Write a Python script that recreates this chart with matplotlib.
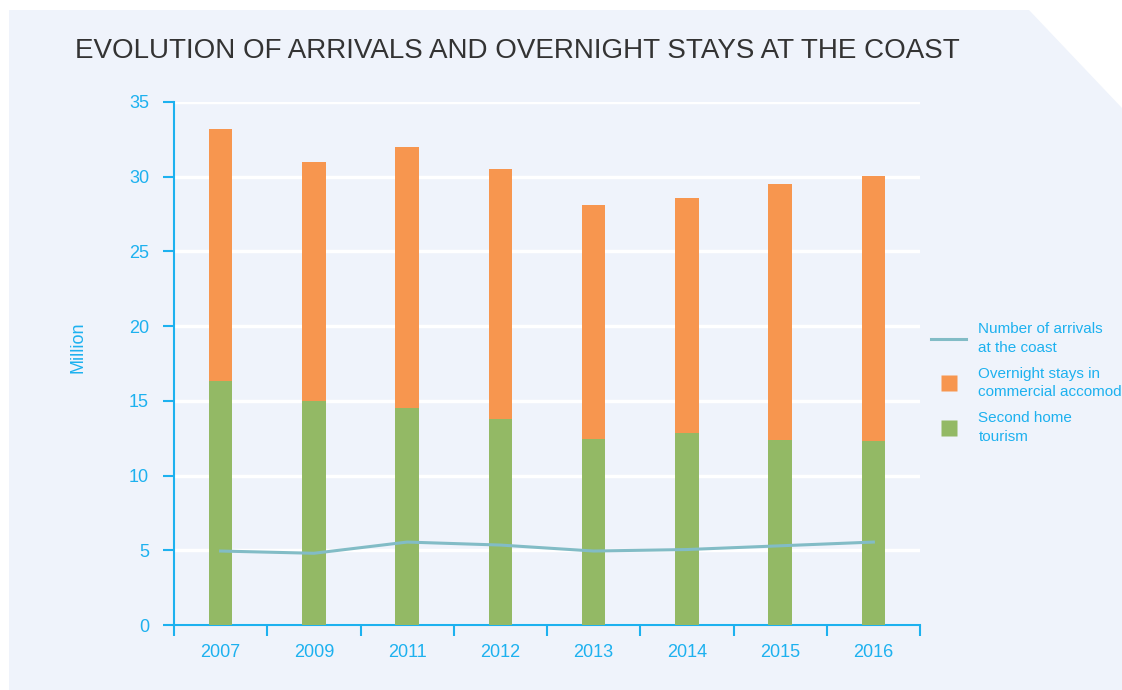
import matplotlib.pyplot as plt
from matplotlib.patches import Polygon
from matplotlib.lines import Line2D

years = ["2007", "2009", "2011", "2012", "2013", "2014", "2015", "2016"]
second_home = [16.3, 15.0, 14.5, 13.8, 12.45, 12.85, 12.4, 12.3]
overnight_total = [33.2, 31.0, 32.0, 30.5, 28.1, 28.6, 29.5, 30.05]
arrivals = [4.95, 4.8, 5.55, 5.35, 4.95, 5.05, 5.3, 5.55]

commercial = [t - s for t, s in zip(overnight_total, second_home)]

BLUE = "#1db1ef"
ORANGE = "#f7964f"
GREEN = "#93b965"
LINE = "#82bcc6"
PANEL = "#eff3fb"

plt.rcParams["font.family"] = ["Liberation Sans", "DejaVu Sans"]

fig = plt.figure(figsize=(11.22, 6.90), dpi=100)
W, H = 1122, 690
panel = Polygon(
    [(9 / W, 0), (9 / W, 1 - 10 / H), (1029 / W, 1 - 10 / H), (1, 1 - 108 / H), (1, 0)],
    closed=True, transform=fig.transFigure, facecolor=PANEL, edgecolor="none", zorder=-10,
)
fig.patches.append(panel)

ax = fig.add_axes([174 / W, 1 - 625 / H, (920 - 174) / W, (625 - 102) / H])
ax.set_facecolor("none")

x = list(range(len(years)))
ax.bar(x, second_home, width=0.25, color=GREEN, zorder=3)
ax.bar(x, commercial, width=0.25, bottom=second_home, color=ORANGE, zorder=3)
ax.plot(x, arrivals, color=LINE, linewidth=2.2, zorder=4)

ax.set_xlim(-0.5, len(years) - 0.5)
ax.set_ylim(0, 35)
ax.set_yticks(range(0, 36, 5))
ax.yaxis.grid(True, color="white", linewidth=2.5, zorder=0)
ax.set_axisbelow(True)

ax.set_xticks(x)
ax.set_xticklabels(years)
ax.set_xticks([i - 0.5 for i in range(len(years) + 1)], minor=True)
ax.tick_params(axis="x", which="major", length=0, pad=14, labelsize=13, labelcolor=BLUE)
ax.tick_params(axis="x", which="minor", length=8, width=1.5, color=BLUE, direction="out")
ax.tick_params(axis="y", length=8, width=1.5, color=BLUE, labelsize=13, labelcolor=BLUE, pad=10)

for side in ["top", "right"]:
    ax.spines[side].set_visible(False)
for side in ["left", "bottom"]:
    ax.spines[side].set_color(BLUE)
    ax.spines[side].set_linewidth(1.5)

fig.text(78 / W, 1 - 347 / H, "Million", color=BLUE, fontsize=13,
         rotation=90, ha="center", va="center")

fig.text(75 / W, 1 - 51 / H, "EVOLUTION OF ARRIVALS AND OVERNIGHT STAYS AT THE COAST",
         fontsize=20, color="#333333", va="center", ha="left")

handles = [
    Line2D([0], [0], color=LINE, linewidth=2.2),
    Line2D([0], [0], marker="s", linestyle="none", markersize=11,
           markerfacecolor=ORANGE, markeredgecolor="none"),
    Line2D([0], [0], marker="s", linestyle="none", markersize=11,
           markerfacecolor=GREEN, markeredgecolor="none"),
]
labels = [
    "Number of arrivals\nat the coast",
    "Overnight stays in\ncommercial accomodation",
    "Second home\ntourism",
]
leg = fig.legend(handles, labels, loc="upper left", bbox_to_anchor=(925 / W, 1 - 316 / H),
                 frameon=False, fontsize=11, labelcolor=BLUE, handlelength=2.3,
                 handletextpad=0.8, labelspacing=0.75, borderaxespad=0, numpoints=1)
for t in leg.get_texts():
    t.set_linespacing(1.45)

fig.savefig("out.png", dpi=100)
